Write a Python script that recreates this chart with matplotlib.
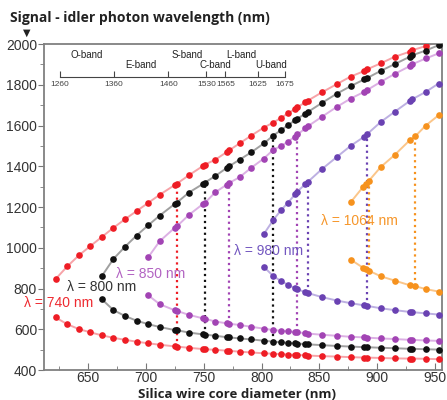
import matplotlib.pyplot as plt
import numpy as np

plt.rcParams['font.family'] = ['Liberation Sans', 'DejaVu Sans']

# core diameter (nm) and signal / idler wavelengths (nm) for each pump wavelength
d_740 = [622, 632, 642, 652, 662, 672, 682, 692, 702, 712, 725, 727, 737, 749, 751, 760, 770, 772, 781, 791,
         802, 810, 817, 823, 829, 831, 838, 840, 852, 865, 877, 889, 891, 903, 915, 928, 930, 942, 953]
sig_740 = [846, 908, 962, 1008, 1053, 1098, 1140, 1180, 1220, 1260, 1308, 1315, 1355, 1400, 1408, 1432, 1470, 1478, 1512, 1550,
           1590, 1614, 1638, 1660, 1682, 1690, 1714, 1722, 1762, 1803, 1840, 1868, 1875, 1905, 1937, 1962, 1969, 1990, 2013]
idl_740 = [658, 625, 601, 585, 570, 558, 548, 539, 531, 524, 516, 515, 509, 503, 502, 499, 495, 494, 490, 486,
           482, 480, 478, 476, 474, 474, 472, 471, 468, 466, 463, 461, 461, 459, 457, 456, 456, 455, 453]

d_800 = [662, 672, 682, 692, 702, 712, 725, 727, 737, 749, 751, 760, 770, 772, 781, 791,
         802, 810, 817, 823, 829, 831, 838, 840, 852, 865, 877, 889, 891, 903, 915, 928, 930, 942, 953]
sig_800 = [861, 945, 1005, 1060, 1110, 1158, 1215, 1222, 1270, 1312, 1320, 1352, 1392, 1400, 1432, 1468,
           1512, 1550, 1578, 1602, 1626, 1634, 1658, 1666, 1710, 1756, 1793, 1827, 1832, 1868, 1901, 1937, 1944, 1968, 1994]
idl_800 = [747, 694, 665, 642, 625, 611, 596, 595, 584, 575, 574, 568, 561, 560, 555, 550,
           544, 539, 536, 533, 531, 530, 527, 526, 522, 518, 515, 512, 512, 509, 507, 504, 504, 502, 500]

d_850 = [702, 712, 725, 727, 737, 749, 751, 760, 770, 772, 781, 791,
         802, 810, 817, 823, 829, 831, 838, 840, 852, 865, 877, 889, 891, 903, 915, 928, 930, 942, 953]
sig_850 = [953, 1032, 1098, 1106, 1160, 1213, 1220, 1272, 1310, 1318, 1346, 1392,
           1438, 1480, 1500, 1521, 1546, 1556, 1586, 1596, 1642, 1691, 1732, 1766, 1773, 1814, 1853, 1891, 1900, 1929, 1954]
idl_850 = [767, 723, 693, 690, 671, 654, 652, 638, 629, 627, 621, 612,
           603, 596, 593, 590, 586, 585, 581, 579, 573, 568, 563, 560, 559, 555, 552, 548, 548, 545, 543]

d_980 = [802, 810, 817, 823, 829, 831, 838, 840, 852, 865, 877, 889, 891, 903, 915, 928, 930, 942, 953]
sig_980 = [1067, 1135, 1185, 1222, 1262, 1276, 1313, 1323, 1385, 1445, 1500, 1546, 1556, 1617, 1667, 1720, 1728, 1765, 1806]
idl_980 = [906, 862, 836, 818, 801, 796, 782, 778, 758, 741, 728, 717, 715, 703, 694, 685, 684, 678, 672]

d_1064 = [877, 888, 890, 893, 903, 915, 928, 933, 942, 953]
sig_1064 = [1223, 1300, 1314, 1330, 1396, 1455, 1527, 1548, 1600, 1650]
idl_1064 = [942, 901, 894, 887, 860, 839, 816, 811, 797, 785]

# diameters where signal and idler are joined by a dotted line
dots_740 = [727]
dots_800 = [751, 810]
dots_850 = [772, 831]
dots_980 = [840, 891]
dots_1064 = [893, 933]

labels = ['λ = 740 nm', 'λ = 800 nm', 'λ = 850 nm', 'λ = 980 nm', 'λ = 1064 nm']
label_pos = [(595, 729), (632, 806), (674, 871), (776, 985), (851, 1133)]

# telecom bands for the small scale at the top
band_ticks = [1260, 1360, 1460, 1530, 1565, 1625, 1675]
band_names = ['O-band', 'E-band', 'S-band', 'C-band', 'L-band', 'U-band']

series = [
    (d_740, sig_740, idl_740, dots_740, '#ee1d25', '#f7a3a8', '#ee2a30'),
    (d_800, sig_800, idl_800, dots_800, '#111111', '#a0a0a0', '#333333'),
    (d_850, sig_850, idl_850, dots_850, '#a244b4', '#dcb0e4', '#b263c2'),
    (d_980, sig_980, idl_980, dots_980, '#6a42b2', '#bdb0e2', '#7357c0'),
    (d_1064, sig_1064, idl_1064, dots_1064, '#f6921e', '#fbc68a', '#f6962a'),
]

fig = plt.figure(figsize=(4.47, 4.0), dpi=100)
ax = fig.add_axes([44 / 447, 30 / 400, 398 / 447, 326 / 400])

for (d, sig, idl, dots, c, lc, tc), lab, (lx, ly) in zip(series, labels, label_pos):
    for y in (sig, idl):
        ax.plot(d, y, '-', color=lc, lw=1.4, zorder=2)
        ax.plot(d, y, 'o', color=c, ms=4.8, mec='none', zorder=3)
    for x in dots:
        i = d.index(x)
        ax.plot([x, x], [idl[i], sig[i]], ':', color=c, lw=1.6, zorder=1)
    ax.text(lx, ly, lab, color=tc, fontsize=10, ha='left', va='center', zorder=4)

ax.set_xlim(612, 956)
ax.set_ylim(400, 2000)
ax.set_xticks(range(650, 951, 50))
ax.set_xticks(np.arange(625, 956, 25), minor=True)
ax.set_yticks(range(400, 2001, 200))
ax.set_yticks(range(500, 2000, 200), minor=True)
ax.tick_params(axis='x', which='both', direction='in', colors='#777777', labelcolor='#333333', labelsize=10, pad=1)
ax.tick_params(axis='x', which='major', length=5)
ax.tick_params(axis='x', which='minor', length=3)
ax.tick_params(axis='y', which='both', direction='out', colors='#777777', labelcolor='#333333', labelsize=10, pad=1)
ax.tick_params(axis='y', which='major', length=4)
ax.tick_params(axis='y', which='minor', length=3)
for s in ax.spines.values():
    s.set_color('#808080')
    s.set_linewidth(1.3)

ax.set_xlabel('Silica wire core diameter (nm)', fontweight='bold', fontsize=9.5, family='Open Sans', color='#222222')
ax.xaxis.set_label_coords((237 - 44) / 398, -24 / 326)
ax.xaxis.label.set_va('center')

fig.text(10 / 447, 1 - 18 / 400, 'Signal - idler photon wavelength (nm)', fontweight='bold', fontsize=10,
         family='Open Sans', color='#222222', ha='left', va='center')
fig.text(27 / 447, 1 - 33 / 400, '▼', fontsize=7, family='DejaVu Sans', color='#222222', ha='center', va='center')

# band scale inset
axb = fig.add_axes([60 / 447, 1 - 77 / 400, 225 / 447, 25 / 400])
axb.set_xlim(band_ticks[0], band_ticks[-1])
axb.set_ylim(0, 1)
axb.patch.set_alpha(0)
for k in ['top', 'left', 'right']:
    axb.spines[k].set_visible(False)
axb.spines['bottom'].set_color('#444444')
axb.spines['bottom'].set_linewidth(0.8)
axb.set_yticks([])
axb.set_xticks(band_ticks)
axb.tick_params(axis='x', direction='in', length=4, width=0.8, colors='#444444', labelsize=6, pad=3)
for i, name in enumerate(band_names):
    mid = (band_ticks[i] + band_ticks[i + 1]) / 2
    axb.text(mid, 0.88 if i % 2 == 0 else 0.48, name, ha='center', va='center', fontsize=7, color='#222222')

fig.savefig('out.png', dpi=100)
